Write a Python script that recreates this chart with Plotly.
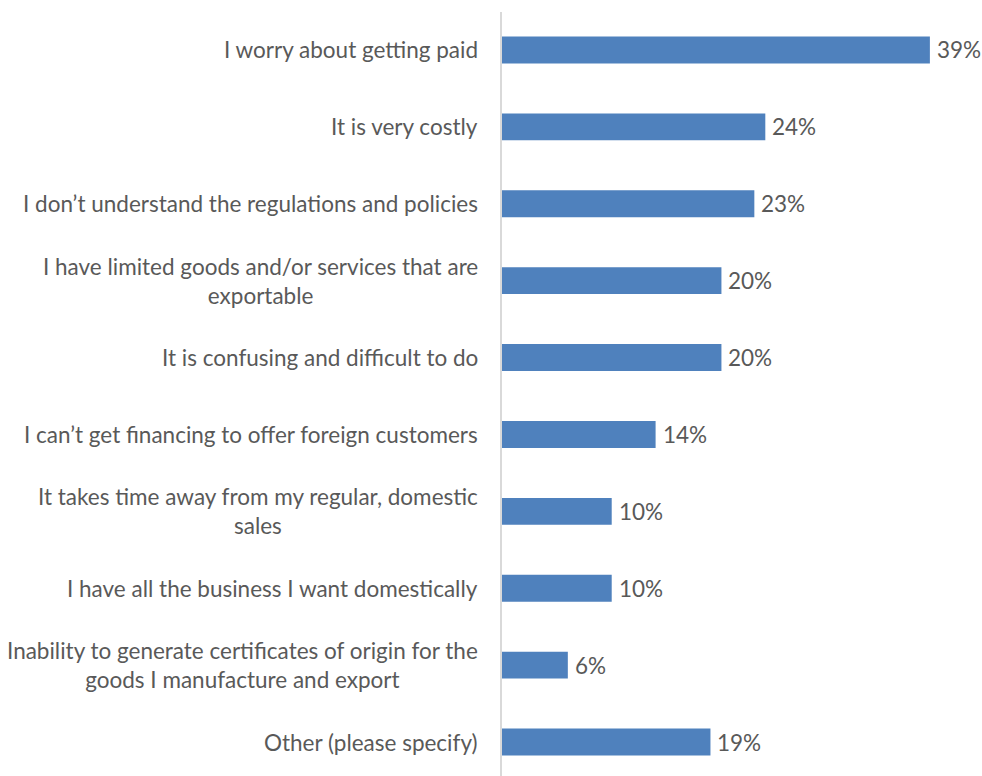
import plotly.graph_objects as go

# Survey responses: reasons for not exporting (share of respondents, %)
categories = [
    "I worry about getting paid",
    "It is very costly",
    "I don\u2019t understand the regulations and policies",
    "I have limited goods and/or services that are<br>exportable",
    "It is confusing and difficult to do",
    "I can\u2019t get financing to offer foreign customers",
    "It takes time away from my regular, domestic<br>sales",
    "I have all the business I want domestically",
    "Inability to generate certificates of origin for the<br>goods I manufacture and export",
    "Other (please specify)",
]
values = [39, 24, 23, 20, 20, 14, 10, 10, 6, 19]

BAR_COLOR = "#4F81BD"
TEXT_COLOR = "#595959"
FONT = "Lato, Carlito, Calibri, sans-serif"
FONT_SIZE = 22.5

ids = list(range(len(categories)))

fig = go.Figure(
    go.Bar(
        x=values,
        y=ids,
        orientation="h",
        width=0.35,
        marker=dict(color=BAR_COLOR, line=dict(width=0)),
        hoverinfo="skip",
    )
)

annotations = []
for i, (cat, v) in enumerate(zip(categories, values)):
    # category label, centred per line, right edge next to the axis
    annotations.append(
        dict(
            x=0, y=i, xref="x", yref="y",
            text=cat, showarrow=False,
            xanchor="right", yanchor="middle", align="center",
            xshift=-22,
            font=dict(family=FONT, size=FONT_SIZE, color=TEXT_COLOR),
        )
    )
    # value label at the end of the bar
    annotations.append(
        dict(
            x=v, y=i, xref="x", yref="y",
            text=f"{v}%", showarrow=False,
            xanchor="left", yanchor="middle",
            xshift=5,
            font=dict(family=FONT, size=FONT_SIZE, color=TEXT_COLOR),
        )
    )

fig.update_layout(
    width=982,
    height=776,
    margin=dict(l=502, r=0, t=12, b=0),
    paper_bgcolor="white",
    plot_bgcolor="white",
    showlegend=False,
    annotations=annotations,
    xaxis=dict(
        range=[0, 43.75],
        showgrid=False,
        zeroline=False,
        showticklabels=False,
        showline=False,
        ticks="",
        fixedrange=True,
    ),
    yaxis=dict(
        range=[9.442, -0.494],
        showgrid=False,
        zeroline=False,
        showticklabels=False,
        showline=True,
        linecolor="#D9D9D9",
        linewidth=1.5,
        ticks="",
        fixedrange=True,
    ),
)

fig.write_html("out.html")
